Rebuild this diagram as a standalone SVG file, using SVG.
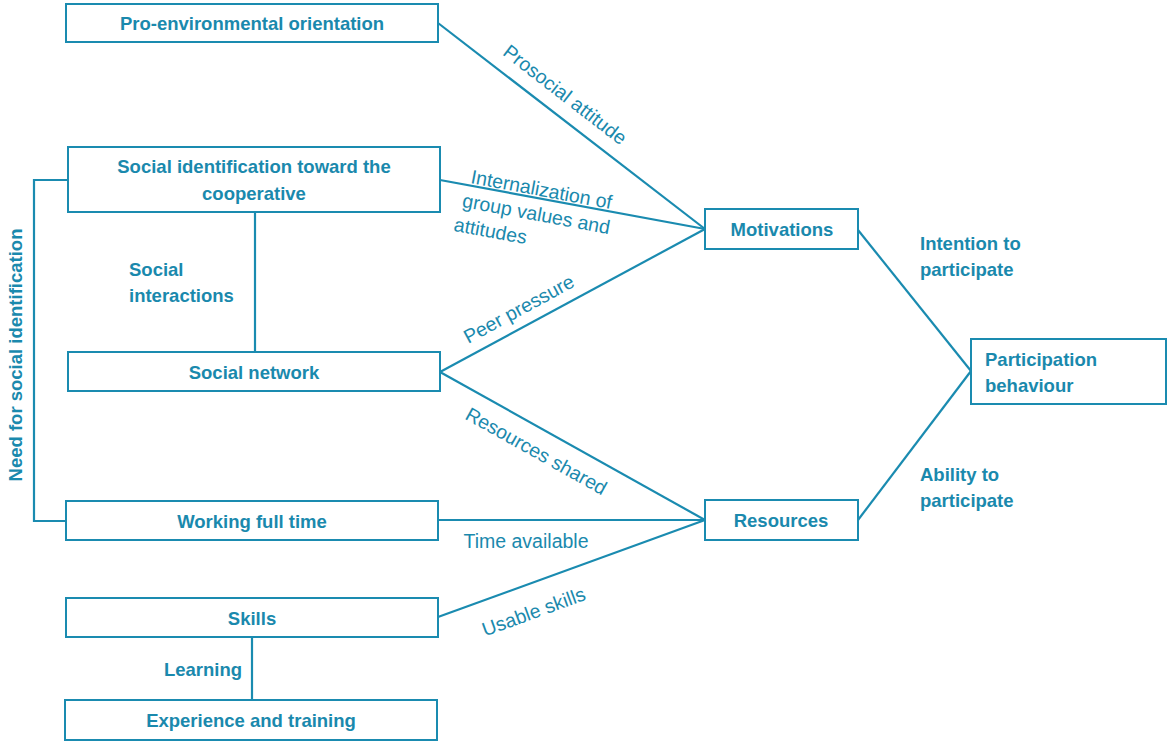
<svg xmlns="http://www.w3.org/2000/svg" width="1167" height="743" viewBox="0 0 1167 743">
<style>
.box{fill:#fff;stroke:#1a8bb0;stroke-width:2}
.ln{stroke:#1a8bb0;stroke-width:2.2;fill:none}
.t{font-family:"Liberation Sans",Arial,sans-serif;font-weight:bold;font-size:18.5px;fill:#1a89ad}
.c{text-anchor:middle}
.e{font-family:"Liberation Sans",Arial,sans-serif;font-size:19.5px;fill:#1a89ad}
</style>
<rect width="1167" height="743" fill="#fff"/>
<g id="connectors">
<line class="ln" x1="438" y1="23" x2="705" y2="229"/>
<line class="ln" x1="440" y1="180" x2="705" y2="229"/>
<line class="ln" x1="440" y1="372" x2="705" y2="229"/>
<line class="ln" x1="440" y1="372" x2="705" y2="520"/>
<line class="ln" x1="438" y1="520" x2="705" y2="520"/>
<line class="ln" x1="438" y1="617" x2="705" y2="520"/>
<line class="ln" x1="858" y1="230" x2="971" y2="371"/>
<line class="ln" x1="858" y1="520" x2="971" y2="371"/>
<line class="ln" x1="255" y1="212" x2="255" y2="352"/>
<line class="ln" x1="252" y1="637" x2="252" y2="700"/>
<polyline class="ln" points="68,180 34,180 34,521 66,521"/>
<text class="e" transform="translate(561,100) rotate(37.6)" text-anchor="middle">Prosocial attitude</text>
<text class="e" transform="translate(470,183) rotate(10.5)"><tspan x="0" y="0">Internalization of</tspan><tspan x="-4" dy="25">group values and</tspan><tspan x="-8" dy="25">attitudes</tspan></text>
<text class="e" transform="translate(522,315) rotate(-28.4)" text-anchor="middle">Peer pressure</text>
<text class="e" transform="translate(533,457) rotate(29.2)" text-anchor="middle">Resources shared</text>
<text class="e" x="526" y="548" text-anchor="middle">Time available</text>
<text class="e" transform="translate(536,618) rotate(-20)" text-anchor="middle">Usable skills</text>
<text class="t" x="129" y="276">Social</text>
<text class="t" x="129" y="302">interactions</text>
<text class="t" x="242" y="676" text-anchor="end">Learning</text>
<text class="t" x="920" y="250">Intention to</text>
<text class="t" x="920" y="276">participate</text>
<text class="t" x="920" y="481">Ability to</text>
<text class="t" x="920" y="507">participate</text>
<text class="t c" transform="translate(22,355) rotate(-90)">Need for social identification</text>
</g>
<g id="pro-env"><rect class="box" x="66" y="4" width="372" height="38"/><text class="t c" x="252" y="29.5">Pro-environmental orientation</text></g>
<g id="social-id"><rect class="box" x="68" y="147" width="372" height="65"/><text class="t c" x="254" y="173">Social identification toward the</text><text class="t c" x="254" y="200">cooperative</text></g>
<g id="social-network"><rect class="box" x="68" y="352" width="372" height="39"/><text class="t c" x="254" y="378.5">Social network</text></g>
<g id="working"><rect class="box" x="66" y="501" width="372" height="39"/><text class="t c" x="252" y="527.5">Working full time</text></g>
<g id="skills"><rect class="box" x="66" y="598" width="372" height="39"/><text class="t c" x="252" y="624.5">Skills</text></g>
<g id="experience"><rect class="box" x="65" y="700" width="372" height="40"/><text class="t c" x="251" y="726.5">Experience and training</text></g>
<g id="motivations"><rect class="box" x="705" y="209" width="153" height="40"/><text class="t c" x="782" y="236">Motivations</text></g>
<g id="resources"><rect class="box" x="705" y="500" width="153" height="40"/><text class="t c" x="781" y="526.5">Resources</text></g>
<g id="participation"><rect class="box" x="971" y="339" width="195" height="65"/><text class="t" x="985" y="366">Participation</text><text class="t" x="985" y="392">behaviour</text></g>
</svg>
